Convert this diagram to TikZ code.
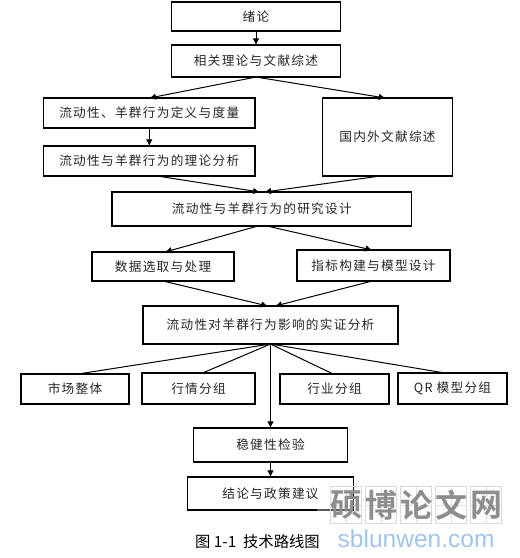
\documentclass[tikz,border=0pt]{standalone}
\usepackage{fontspec}
\setmainfont{Noto Sans CJK SC}
\newfontfamily\boxfont[LetterSpace=10]{Noto Sans CJK SC}
\newfontfamily\markfont{Noto Sans CJK SC Bold}
\newfontfamily\urlfont{Liberation Sans}
\usetikzlibrary{arrows.meta, positioning}
\definecolor{markgray}{HTML}{8E8E8E}
\definecolor{markblue}{HTML}{9FC5EE}

\begin{document}
\begin{tikzpicture}[
    box/.style={rectangle, draw=black, line width=1pt, outer sep=0pt, align=center, inner sep=0pt, font=\boxfont\fontsize{9.5}{11}\selectfont, text=black!85},
    arrow/.style={-{Latex[length=5pt, width=5pt]}, line width=0.75pt},
    link/.style={line width=0.75pt},
    cell/.style={draw=black!15, line width=0.5pt, minimum width=23.25pt, minimum height=27.75pt, inner sep=0pt}
]
\useasboundingbox (0,0) rectangle (389.25pt,418.5pt);

% Upper part
\node[box, minimum width=126.75pt, minimum height=21.75pt] (intro) at (192pt,406.1pt) {\raisebox{-1.5pt}{绪论}};
\node[box, minimum width=126.75pt, minimum height=24pt, below=10.5pt of intro] (theorylit) {相关理论与文献综述};
\node[box, minimum width=158.6pt, minimum height=22.5pt, below=15.75pt of theorylit, xshift=-80.06pt] (define) {流动性、羊群行为定义与度量};
\node[box, minimum width=158.6pt, minimum height=22.5pt, below=13.5pt of define] (analysis) {流动性与羊群行为的理论分析};
\node[box, minimum width=97.5pt, minimum height=58.5pt, below=15.75pt of theorylit, xshift=98.6pt] (review) {国内外文献综述};
\node[box, minimum width=224.6pt, minimum height=25.5pt, below=12pt of analysis, xshift=84.4pt] (design) {流动性与羊群行为的研究设计};
\node[box, minimum width=106.5pt, minimum height=21.75pt, below=19.5pt of design, xshift=-74.06pt] (data) {数据选取与处理};
\node[box, minimum width=114.75pt, minimum height=23.25pt, below=18pt of design, xshift=83.8pt] (model) {指标构建与模型设计};
\node[box, minimum width=191.25pt, minimum height=28.5pt, below=18.75pt of data, xshift=80.6pt] (empirical) {流动性对羊群行为影响的实证分析};

% Groups
\node[box, minimum width=81pt, minimum height=22.5pt, below=22.5pt of empirical, xshift=-146.6pt] (market) {市场整体};
\node[box, minimum width=84.75pt, minimum height=23.25pt, below=21.75pt of empirical, xshift=-54pt] (trend) {行情分组};
\node[box, minimum width=81.75pt, minimum height=22.5pt, below=22.5pt of empirical, xshift=48pt] (industry) {行业分组};
\node[box, minimum width=81.75pt, minimum height=23.25pt, below=21.75pt of empirical, xshift=136.5pt] (qrgroup) {QR 模型分组};

% Lower part
\node[box, minimum width=115.9pt, minimum height=25.5pt, below=63pt of empirical] (robust) {稳健性检验};
\node[box, minimum width=124.1pt, minimum height=24.75pt, below=11.25pt of robust] (conclusion) {结论与政策建议};
\node[below=18.5pt of conclusion, xshift=-9.75pt, inner sep=0pt, font=\fontsize{11.5}{13}\selectfont] (caption) {图 1-1\ \ 技术路线图};

% Arrows
\draw[arrow] (intro) -- (theorylit);
\draw[arrow] (theorylit.south) -- (define.north);
\draw[arrow] (theorylit.south) -- ([xshift=-1.5pt]review.north);
\draw[arrow] (define) -- (analysis);
\draw[arrow] ([xshift=6pt]analysis.south) -- ([xshift=-1.5pt]design.north);
\draw[arrow] ([xshift=-5.5pt]review.south) -- ([xshift=2pt]design.north);
\draw[arrow] ([xshift=-3pt]design.south) -- ([xshift=1.5pt]data.north);
\draw[arrow] ([xshift=4pt]design.south) -- ([xshift=-1pt]model.north);
\draw[arrow] (data.south) -- ([xshift=-2pt]empirical.north);
\draw[arrow] ([xshift=-1pt]model.south) -- ([xshift=3.5pt]empirical.north);

% Plain lines to the groups
\draw[link] (empirical.south) -- ([xshift=2pt]market.north);
\draw[link] (empirical.south) -- ([xshift=3pt]trend.north);
\draw[link] (empirical.south) -- ([xshift=-1pt]industry.north);
\draw[link] (empirical.south) -- ([xshift=-5.5pt]qrgroup.north);

\draw[arrow] (empirical) -- (robust);
\draw[arrow] (robust) -- (conclusion);

% Watermark
\draw[line width=1pt, draw=black!65] ([xshift=-27pt]conclusion.south east) -- (conclusion.south east);
\foreach \ch [count=\i] in {硕,博,论,文,网} {
    \node[cell] (mark\i) at ({248pt+11.6pt+(\i-1)*26.25pt},39.75pt) {};
    \draw[draw=black!12, line width=0.4pt] (mark\i.north) -- (mark\i.south);
    \draw[draw=black!12, line width=0.4pt] (mark\i.west) -- (mark\i.east);
    \node[inner sep=0pt, text=markgray, font=\markfont\fontsize{24}{24}\selectfont] (char\i) at (mark\i) {\ch};
}
\node[below=4.5pt of mark3, inner sep=0pt, text=markblue, font=\urlfont\fontsize{18.4}{20}\selectfont] (url) {sblunwen.com};

\end{tikzpicture}
\end{document}
